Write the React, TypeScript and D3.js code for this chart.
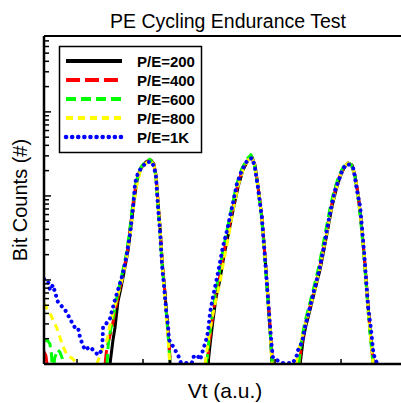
import React from "react";
import * as d3 from "d3";

const TITLE = "PE Cycling Endurance Test";
const X_LABEL = "Vt (a.u.)";
const Y_LABEL = "Bit Counts (#)";
const X_TICKS = [10, 30, 50, 70, 90];
const X_DOMAIN = [0, 111.5];
const Y_DOMAIN = [1, 8000];

const LABELS = ["P/E=200", "P/E=400", "P/E=600", "P/E=800", "P/E=1K"];
const COLORS = ["#000000", "#ff0000", "#00ff00", "#ffff00", "#0000ff"];

// [Vt, count]; count 0 = no bits (gap)
const PE200: [number, number][] = [
  [20, 1], [20.9, 1.93], [21.5, 2.68], [22.4, 5.5], [23.3, 8], [24.2, 12.1], [25.5, 22.7], [26.4, 45], [27.3, 89.5], [28.2, 155], [29.4, 215], [30.9, 254], [32.4, 266], [33.3, 240], [33.9, 178], [34.5, 89.5], [35.2, 39.4], [35.8, 16.4], [36.7, 6.6], [37.3, 3.34], [37.9, 1.68], [38.2, 1],
  [44, 0],
  [49.7, 1], [50.3, 1.68], [51.2, 3.34], [52.1, 6.1], [53.3, 10], [54.5, 19.3], [55.8, 34.3], [57.3, 68], [58.8, 128], [60.3, 204], [61.8, 266], [63, 291], [63.9, 235], [64.8, 134], [66, 56], [66.7, 26], [67.3, 12.4], [67.9, 5.8], [68.5, 2.54], [69.1, 1],
  [73, 0],
  [77.6, 1], [78.5, 1.93], [79.4, 2.91], [80.6, 4.4], [82.1, 7.6], [83.6, 13.1], [84.8, 22.7], [86.1, 42.7], [87.3, 76], [88.5, 118], [89.7, 169], [90.9, 215], [92.1, 247], [93.3, 233], [94.2, 178], [95.2, 102], [96.1, 49], [97, 19.8], [97.6, 10], [98.2, 4.8], [98.8, 2.54], [99.4, 1.47], [99.7, 1],
];

const PE400: [number, number][] = [
  [0, 1.4], [0.6, 1.25], [0.9, 1],
  [10, 0],
  [18.5, 1], [18.9, 1.4], [19.6, 1.9], [20.5, 2.6], [21.4, 4], [22.3, 6], [23.2, 8.6], [24.2, 13], [25.3, 23], [26.2, 44], [27.1, 88], [28, 150], [29.2, 212], [30.7, 255], [32.3, 268], [33.2, 242], [33.9, 180], [34.5, 90], [35.2, 40], [35.8, 16], [36.7, 6.5], [37.3, 3.3], [37.9, 1.7], [38.3, 1],
  [44, 0],
  [49.4, 1], [50, 1.7], [51, 3.4], [51.9, 6.2], [53.1, 10.2], [54.3, 19.5], [55.6, 35], [57.1, 69], [58.6, 130], [60.1, 206], [61.6, 268], [62.9, 290], [63.8, 236], [64.8, 135], [66, 57], [66.7, 26], [67.3, 12.4], [67.9, 5.9], [68.6, 2.5], [69.3, 1],
  [73, 0],
  [77.3, 1], [78.3, 1.95], [79.2, 2.95], [80.4, 4.5], [81.9, 7.7], [83.4, 13.3], [84.6, 23], [85.9, 43], [87.1, 77], [88.3, 119], [89.5, 170], [90.8, 216], [92, 248], [93.2, 234], [94.2, 178], [95.2, 102], [96.1, 49], [97, 20], [97.6, 10], [98.2, 4.8], [98.8, 2.5], [99.4, 1.45], [99.8, 1],
];

const PE600: [number, number][] = [
  [0.3, 1.93], [1.2, 1.88], [1.8, 1.73], [2.3, 1.28], [2.4, 1],
  [2.7, 0],
  [3, 1], [3.3, 1.2], [4.2, 1.47], [4.8, 1.39], [5.5, 1.18], [5.8, 1],
  [10, 0],
  [19.1, 1], [19.5, 1.78], [20, 2.34], [20.9, 3.5], [21.8, 5.5], [22.8, 8.4], [23.8, 12.5], [25, 21], [26, 40], [26.9, 80], [27.9, 145], [29.1, 210], [30.6, 256], [32.1, 272], [33.1, 240], [33.8, 180], [34.4, 92], [35.1, 40], [35.7, 16.5], [36.6, 6.7], [37.2, 3.4], [37.8, 1.75], [38.2, 1],
  [44, 0],
  [49.3, 1], [49.9, 1.8], [50.9, 3.6], [51.8, 6.5], [52.9, 11], [54.1, 21], [55.4, 38], [56.9, 74], [58.4, 138], [59.9, 210], [61.4, 272], [62.7, 310], [63.7, 240], [64.7, 136], [65.9, 57], [66.6, 26], [67.2, 12.4], [67.8, 5.9], [68.5, 2.5], [69.2, 1],
  [73, 0],
  [77.2, 1], [78.1, 2], [79, 3.1], [80.2, 4.7], [81.7, 8], [83.2, 14], [84.4, 24.5], [85.7, 45], [86.9, 80], [88.1, 122], [89.3, 172], [90.6, 218], [91.9, 250], [93.1, 236], [94.1, 178], [95.1, 102], [96, 49], [96.9, 20], [97.5, 10], [98.1, 4.8], [98.7, 2.5], [99.3, 1.45], [99.7, 1],
];

const PE800: [number, number][] = [
  [0, 5.3], [0.9, 4.6], [1.8, 4.05], [2.7, 3.34], [3.9, 2.68], [4.8, 2.1], [5.8, 1.6], [7, 1.28], [7.9, 1.21], [8.8, 1.15], [9.4, 1.06],
  [12, 0],
  [16, 1], [17, 1.28], [17.9, 1.6], [19.1, 1.93], [20, 2.9], [21.2, 4.6], [22.4, 6.6], [23.6, 10], [24.8, 16.4], [26.1, 33.5], [27, 68], [27.9, 124], [29.1, 193], [30.6, 240], [32.1, 266], [33.3, 233], [33.9, 175], [34.5, 89], [35.2, 39], [35.8, 16.4], [36.4, 7.6], [37, 3.8], [37.6, 2.04], [37.9, 1.28], [38.2, 1],
  [44, 0],
  [48.8, 1], [49.4, 1.47], [50, 2.2], [50.9, 3.5], [52.1, 5.8], [53.3, 9.2], [54.5, 17.3], [55.8, 31.6], [57.3, 68], [58.8, 131], [60.3, 204], [61.8, 266], [63, 291], [63.9, 228], [64.8, 131], [66, 56], [66.7, 25], [67.3, 12.1], [67.9, 5.8], [68.5, 2.68], [68.8, 1.47], [69.1, 1],
  [73, 0],
  [76.4, 1], [77.3, 1.55], [78.2, 2.04], [79.4, 3.16], [80.6, 4.6], [82.1, 7.6], [83.6, 13.9], [84.8, 24], [86.1, 44], [87.3, 78], [88.5, 121], [89.7, 172], [90.9, 221], [92.1, 247], [93.3, 233], [94.2, 175], [95.2, 100], [96.1, 47.7], [97, 19.3], [97.6, 9.5], [98.2, 4.4], [98.8, 2.34], [99.4, 1.39], [99.7, 1],
];

const PE1K: [number, number][] = [
  [0, 10.3], [1.2, 9.7], [1.8, 7.6], [2.7, 8.7], [3.3, 7.2], [4.2, 5.5], [5.5, 4.8], [6.4, 4.4], [7.3, 3.8], [8.5, 3.1], [9.4, 2.7], [10.3, 2.7], [10.9, 2.1], [11.5, 1.78], [12.4, 1.47], [13.9, 1.6], [15.5, 1.39], [16.4, 1.28], [17.6, 1.47], [17.9, 2.78], [18.8, 3.0], [20, 3.5], [21.5, 5.8], [22.7, 8.25], [23.6, 10.9], [24.8, 17.3], [26.1, 36], [27, 74], [27.6, 142], [28.5, 189], [29.7, 221], [31.2, 254], [32.7, 254], [33.3, 221], [33.9, 178], [34.2, 118], [34.5, 78], [35.2, 36], [35.8, 14.3], [36.4, 8.25], [37, 4.4], [37.6, 2.75], [37.9, 1.93], [38.5, 1.78], [39.7, 1.47], [40.6, 1.28], [41.5, 1.03],
  [44.8, 1.03], [45.2, 1.21], [46.4, 1.28], [47.3, 1.12], [48.2, 1.47], [49.1, 1.93], [49.7, 2.4], [50.3, 4.05], [51.2, 6.3], [52.7, 12.1], [54.2, 24.8], [55.5, 39.4], [57, 74], [58.5, 142], [60, 204], [61.5, 261], [63, 283], [63.9, 221], [64.8, 128], [66, 56], [66.7, 24.8], [67.3, 12.1], [67.9, 5.8], [68.5, 2.78], [69.1, 1.47], [69.4, 1.18], [72.1, 1.03],
  [75.5, 1.03], [76.1, 1.18], [76.7, 1.28], [77, 1.47], [78.2, 1.83], [79.1, 2.78], [80.6, 4.8], [82.1, 8.25], [83.6, 14.3], [85.2, 30], [86.1, 47.7], [87.3, 82.5], [88.2, 118], [89.7, 169], [90.6, 215], [92.1, 240], [93.6, 221], [94.2, 169], [94.8, 118], [95.8, 74], [96.4, 39.4], [97, 21], [97.6, 10], [98.2, 4.8], [99.1, 2.54], [99.7, 1.47], [100.3, 1.12], [101.2, 1],
];

const SERIES = [PE200, PE400, PE600, PE800, PE1K];
const DASHES = [undefined, "14 5", "10 5", "7 5", "0.1 6"];
const WIDTHS = [3, 3, 3, 3, 4];

const FONT = "'Liberation Sans', Arial, Helvetica, sans-serif";

export default function App() {
  const W = 401, H = 403;
  const left = 44, right = 412, top = 36, bottom = 364;
  const x = d3.scaleLinear().domain(X_DOMAIN).range([left, right]);
  const y = d3.scaleLog().domain(Y_DOMAIN).range([bottom, top]);

  const line = d3
    .line<[number, number]>()
    .defined((d) => d[1] > 0)
    .x((d) => x(d[0]))
    .y((d) => y(d[1]));

  const yTicks: { v: number; major: boolean }[] = [];
  for (let k = 0; k < 4; k++) {
    for (let m = 1; m <= 9; m++) {
      const v = m * Math.pow(10, k);
      if (v <= Y_DOMAIN[1]) yTicks.push({ v, major: m === 1 });
    }
  }

  const legX = 59.5, legY = 46.5, legW = 142, legH = 106;
  const rowY = (i: number) => 61 + i * 19;

  return (
    <svg
      width={W}
      height={H}
      style={{ position: "absolute", left: 0, top: 0, background: "#fff" }}
      fontFamily={FONT}
    >
      <defs>
        <clipPath id="plotclip">
          <rect x={left} y={top} width={right - left} height={bottom - top} />
        </clipPath>
      </defs>
      <rect x={0} y={0} width={W} height={H} fill="#fff" />
      <text x={228} y={28} textAnchor="middle" fontSize={19.5} fill="#000">
        {TITLE}
      </text>

      <g clipPath="url(#plotclip)">
        {SERIES.map((s, i) => (
          <path
            key={i}
            d={line(s) || ""}
            fill="none"
            stroke={COLORS[i]}
            strokeWidth={WIDTHS[i]}
            strokeDasharray={DASHES[i]}
            strokeLinecap={i === 4 ? "round" : "butt"}
            strokeLinejoin="round"
          />
        ))}
      </g>

      {/* frame */}
      <line x1={left} x2={right} y1={top} y2={top} stroke="#000" strokeWidth={2} />
      <line x1={left} x2={right} y1={bottom} y2={bottom} stroke="#000" strokeWidth={2.5} />
      <line x1={left} x2={left} y1={top} y2={bottom} stroke="#000" strokeWidth={2.5} />
      <line x1={right} x2={right} y1={top} y2={bottom} stroke="#000" strokeWidth={2} />

      {/* y ticks */}
      {yTicks.map((t, i) => (
        <line
          key={i}
          x1={left}
          x2={left + (t.major ? 7 : 5)}
          y1={y(t.v)}
          y2={y(t.v)}
          stroke="#000"
          strokeWidth={1.5}
        />
      ))}
      {/* x ticks */}
      {X_TICKS.map((t, i) => (
        <line key={i} x1={x(t)} x2={x(t)} y1={bottom} y2={bottom - 5} stroke="#000" strokeWidth={1.5} />
      ))}

      <text x={225} y={398} textAnchor="middle" fontSize={21} fill="#000">
        {X_LABEL}
      </text>
      <text
        transform={`translate(27,${(top + bottom) / 2}) rotate(-90)`}
        textAnchor="middle"
        fontSize={20}
        fill="#000"
      >
        {Y_LABEL}
      </text>

      {/* legend */}
      <rect x={legX} y={legY} width={legW} height={legH} fill="#fff" stroke="#000" strokeWidth={1.5} />
      {LABELS.map((lab, i) => (
        <g key={lab}>
          <line
            x1={66}
            x2={122}
            y1={rowY(i)}
            y2={rowY(i)}
            stroke={COLORS[i]}
            strokeWidth={i === 4 ? 4.5 : 4}
            strokeDasharray={DASHES[i]}
            strokeLinecap={i === 4 ? "round" : "butt"}
          />
          <text x={137} y={rowY(i) + 5.5} fontSize={15} fontWeight="bold" fill="#000">
            {lab}
          </text>
        </g>
      ))}
    </svg>
  );
}
